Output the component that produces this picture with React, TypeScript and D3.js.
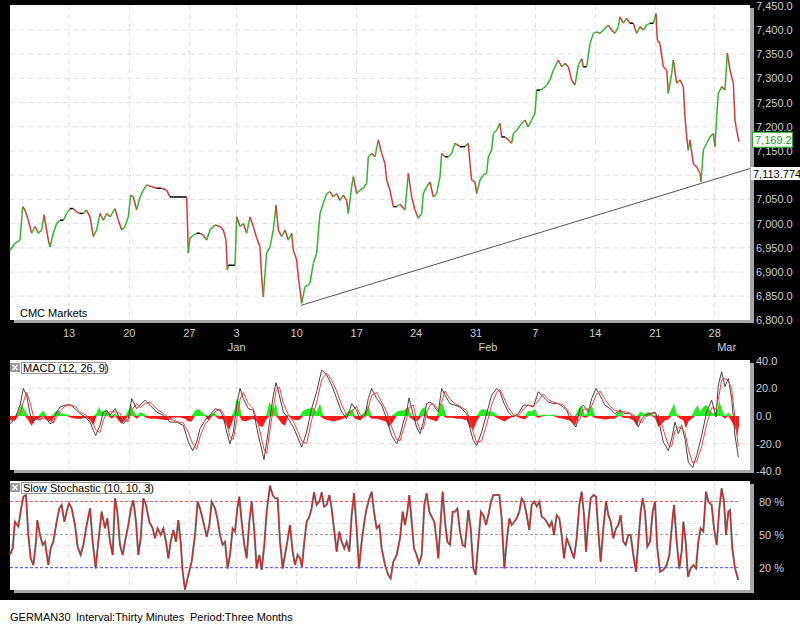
import React from 'react'
import * as d3 from 'd3'

const W = 800
const H = 625
const left = 10
const right = 750
const pricePane = { top: 5, bottom: 320 }
const macdPane = { top: 360, bottom: 470 }
const stochPane = { top: 481, bottom: 590 }
const FONT = '"Liberation Sans", Arial, sans-serif'

// x unit: 30-minute bars counted from the open of Mon 13 Dec
const firstBar = -177
const lastBar = 2043
const dayTicks = [0, 181, 361, 503, 683, 863, 1041, 1221, 1399, 1579, 1759, 1937]
const dayLabels = ['13', '20', '27', '3', '10', '17', '24', '31', '7', '14', '21', '28']
const monthTicks = [503, 1257, 1973]
const monthLabels = ['Jan', 'Feb', 'Mar']

const priceTicks = [6800, 6850, 6900, 6950, 7000, 7050, 7100, 7150, 7200, 7250, 7300, 7350, 7400, 7450]
const macdTicks = [40, 20, 0, -20, -40]
const stochLabels = [80, 50, 20]
const stochGrid = [40, 60]

const lastClose = 7169.2
const trendStart: [number, number] = [696, 6831]
const trendEnd: [number, number] = [2043, 7113.774]

// [bar, close]
const closes: [number, number][] = [
  [-177, 6945], [-162, 6959], [-147, 6966], [-139, 7035], [-132, 7028], [-122, 7007], [-112, 6980], [-102, 6994],
  [-92, 6980], [-82, 6987], [-75, 7018], [-62, 6966], [-57, 6952], [-47, 6980], [-37, 7000], [-27, 7007],
  [-17, 7007], [-7, 7021], [3, 7031], [13, 7031], [23, 7024], [33, 7021], [43, 7021], [53, 7028],
  [63, 7014], [73, 6973], [83, 6987], [93, 7021], [103, 7007], [113, 7021], [123, 7014], [138, 7031],
  [148, 7007], [158, 6987], [168, 6994], [178, 7014], [185, 7059], [193, 7055], [203, 7028], [213, 7055],
  [223, 7069], [233, 7080], [248, 7076], [263, 7073], [278, 7073], [293, 7069], [303, 7055], [313, 7055],
  [353, 7055], [358, 6939], [363, 6970], [373, 6976], [383, 6980], [393, 6980], [403, 6976], [413, 6966],
  [423, 6987], [438, 6997], [453, 6994], [463, 6987], [471, 6966], [475, 6904], [478, 6914], [498, 6914],
  [503, 7014], [513, 6994], [523, 7000], [533, 6980], [543, 7014], [553, 6994], [563, 6970], [573, 6952],
  [578, 6890], [583, 6849], [588, 6897], [593, 6939], [603, 6952], [613, 6987], [621, 7038], [628, 6987],
  [638, 6973], [648, 6987], [658, 6966], [668, 6980], [673, 6945], [683, 6925], [688, 6890], [693, 6863],
  [698, 6835], [708, 6870], [718, 6873], [723, 6877], [733, 6918], [743, 6939], [753, 7021], [763, 7042],
  [773, 7062], [783, 7066], [793, 7055], [803, 7062], [813, 7048], [823, 7059], [833, 7048], [838, 7021],
  [848, 7076], [853, 7097], [863, 7062], [873, 7069], [883, 7073], [893, 7083], [898, 7138], [908, 7145],
  [918, 7138], [928, 7173], [938, 7145], [948, 7124], [953, 7090], [963, 7069], [973, 7035], [983, 7035],
  [993, 7040], [1008, 7028], [1018, 7104], [1028, 7055], [1038, 7028], [1048, 7011], [1058, 7021], [1063, 7062],
  [1073, 7076], [1083, 7086], [1093, 7055], [1103, 7062], [1113, 7097], [1118, 7145], [1128, 7138], [1138, 7138],
  [1148, 7145], [1158, 7166], [1173, 7159], [1188, 7159], [1198, 7166], [1203, 7124], [1208, 7090], [1218, 7086],
  [1223, 7062], [1233, 7090], [1243, 7100], [1253, 7104], [1258, 7138], [1268, 7152], [1273, 7186], [1283, 7193],
  [1293, 7207], [1298, 7179], [1308, 7179], [1318, 7173], [1328, 7166], [1333, 7186], [1343, 7193], [1358, 7207],
  [1368, 7214], [1378, 7200], [1388, 7214], [1398, 7228], [1403, 7276], [1413, 7276], [1423, 7279], [1433, 7286],
  [1443, 7297], [1453, 7317], [1468, 7338], [1478, 7324], [1488, 7331], [1498, 7324], [1508, 7297], [1518, 7286],
  [1528, 7328], [1538, 7341], [1543, 7324], [1553, 7324], [1563, 7372], [1573, 7393], [1583, 7396], [1593, 7393],
  [1603, 7400], [1618, 7410], [1628, 7400], [1638, 7393], [1648, 7407], [1653, 7427], [1663, 7414], [1673, 7424],
  [1683, 7414], [1693, 7414], [1703, 7393], [1713, 7407], [1723, 7400], [1733, 7410], [1743, 7414], [1753, 7414],
  [1761, 7434], [1765, 7379], [1773, 7372], [1783, 7324], [1793, 7317], [1798, 7269], [1808, 7310], [1813, 7338],
  [1823, 7290], [1833, 7297], [1843, 7283], [1848, 7221], [1853, 7179], [1858, 7152], [1863, 7173], [1873, 7124],
  [1883, 7117], [1893, 7104], [1896, 7086], [1903, 7152], [1913, 7166], [1923, 7179], [1933, 7186], [1938, 7159],
  [1943, 7221], [1948, 7269], [1958, 7283], [1968, 7276], [1975, 7352], [1983, 7317], [1993, 7290], [1998, 7214],
  [2003, 7193], [2010, 7169.2],
]

// [bar, macd, signal]
const macd: [number, number, number][] = [
  [-177, -5.6, -3], [-162, -1.9, -3], [-147, 7.8, 2], [-137, 19.9, 10], [-127, 15, 17], [-117, 1.7, 10], [-107, -4.4, 0],
  [-97, -0.7, -3], [-87, -3.1, -2], [-77, -0.7, -2], [-67, -1.9, -1], [-57, -5.6, -3], [-47, -4.4, -5], [-37, 2.9, -1],
  [-27, 6.5, 4], [-12, 7.8, 7], [3, 8.2, 8], [18, 5.3, 7], [33, 1.7, 3], [48, -0.7, 1], [63, -4.4, -2],
  [73, -10.4, -6], [80, -14.1, -10], [93, -6.8, -12], [103, 2.9, -3], [113, 4.1, 2], [123, 0.5, 3], [138, 5.3, 3],
  [153, -1.9, 2], [163, -5.6, -3], [178, -1.9, -4], [188, 12.6, 4], [203, 5.3, 9], [213, 7.8, 6], [228, 11.4, 9],
  [243, 7.8, 10], [263, 2.9, 5], [283, 0.5, 2], [303, -4.4, -2], [323, -4.4, -4], [343, -6.8, -5], [358, -18.9, -12],
  [371, -25, -20], [383, -18.9, -24], [393, -9.2, -15], [408, -3.1, -6], [423, 0.5, -2], [438, 5.3, 3], [453, 4.1, 5],
  [463, -0.7, 2], [473, -11.6, -5], [483, -20.1, -15], [493, -11.6, -17], [503, 7.8, -3], [513, 19.9, 12], [523, 12.6, 17],
  [538, 5.3, 9], [553, 4.1, 5], [568, -14.1, -6], [578, -23.8, -17], [585, -31.5, -24], [593, -18.9, -27], [603, -1.9, -10],
  [613, 15, 6], [621, 24.2, 18], [631, 15, 21], [643, 2.9, 9], [658, -1.9, 1], [673, -8, -4], [688, -16.5, -12],
  [698, -22.5, -18], [713, -11.6, -20], [728, 5.3, -3], [743, 17.5, 10], [758, 33.2, 26], [773, 29.6, 31], [788, 22.3, 26],
  [803, 12.6, 18], [818, 2.9, 8], [833, -1.9, 1], [848, 8.9, 3], [863, 4.1, 7], [873, -3.1, 1], [888, 0.5, -1],
  [898, 12.6, 6], [908, 19.9, 15], [923, 12.6, 17], [938, 7.8, 10], [953, -1.9, 3], [968, -14.1, -8], [983, -20.1, -17],
  [993, -14.1, -18], [1003, -4.4, -10], [1013, 2.9, -2], [1020, 13.1, 6], [1033, 0.5, 8], [1043, -8, -3], [1053, -12.8, -10],
  [1063, -4.4, -9], [1073, 8.9, 2], [1083, 10.2, 8], [1093, 7.8, 9], [1108, 2.9, 5], [1118, 19.9, 10], [1128, 15, 18],
  [1143, 8.9, 12], [1158, 7.8, 9], [1173, 6.5, 7], [1193, 1.7, 4], [1203, -9.2, -3], [1213, -17.7, -12], [1223, -21.3, -19],
  [1238, -11.6, -18], [1253, 1.7, -6], [1268, 15, 8], [1283, 19.9, 17], [1293, 17.5, 19], [1303, 10.2, 14], [1318, 2.9, 6],
  [1333, -0.7, 1], [1348, 1.7, 0], [1363, 7.8, 5], [1378, 7.8, 8], [1393, 6.5, 7], [1408, 17.5, 11], [1423, 13.8, 16],
  [1438, 10.2, 12], [1453, 8.9, 10], [1468, 8.9, 9], [1483, 6.5, 8], [1493, 4.1, 5], [1508, -4.4, 0], [1521, -8, -6],
  [1533, 5.3, -2], [1543, 7.8, 5], [1558, 2.9, 5], [1568, 12.6, 7], [1581, 19.9, 15], [1593, 15, 18], [1608, 7.8, 12],
  [1623, 5.3, 7], [1638, 1.7, 4], [1653, 4.1, 3], [1668, 1.7, 3], [1683, 1.7, 2], [1698, -1.9, 0], [1708, -8, -4],
  [1718, -1.9, -5], [1728, 0.5, -1], [1743, 1.7, 1], [1758, 2.9, 2], [1771, -5.6, 0], [1783, -18.9, -10], [1798, -25, -21],
  [1808, -16.5, -22], [1818, -4.4, -11], [1828, -12.8, -8], [1838, -6.8, -9], [1848, -16.5, -12], [1858, -33.5, -24], [1871, -37.1, -34],
  [1883, -28.6, -33], [1898, -14.1, -22], [1913, 2.9, -6], [1928, 11.4, 6], [1941, -0.7, 5], [1948, 22.3, 12], [1958, 32, 26],
  [1968, 21.1, 27], [1978, 27.2, 25], [1988, 12.6, 20], [1998, -14.1, -2], [2008, -29.8, -22],
]

// [bar, histogram]
const macdHist: [number, number][] = [
  [-177, -3], [-162, -3], [-152, 3], [-142, 9], [-132, 4], [-122, -3], [-112, -7], [-102, -3], [-92, -2], [-77, 4],
  [-67, -3], [-52, -4], [-42, 3], [-32, 4], [-22, 2], [-7, 1], [8, -1.5], [23, -2], [38, -2], [53, -1],
  [63, -3], [73, -7], [83, 2], [90, 6.5], [98, 3], [108, 4], [118, 3], [128, -2], [138, 2], [148, -3],
  [158, -5.6], [168, -3], [178, 4], [186, 8], [193, 4], [203, -2], [213, 2.5], [223, 2], [233, -1.5], [248, -2],
  [263, -2], [278, -2.5], [293, -3], [303, -2.5], [313, -1], [333, -1], [348, -2], [358, -4], [368, -4], [378, 4],
  [388, 5], [398, 3], [408, 1], [418, -3], [428, 2.5], [438, 2], [448, -2], [463, -2.5], [473, -7], [481, -10],
  [488, -5.6], [496, 4], [503, 12.6], [511, 10], [518, -3], [528, -4], [538, -3], [553, -2], [563, -4], [571, -7],
  [581, -8], [591, -3], [601, 10], [608, 7.5], [615, 5], [621, 10], [628, -2], [638, -5.6], [648, -7], [658, 1],
  [668, -2], [681, -3], [693, -2.5], [703, 4], [713, 5], [723, 5.5], [733, 6], [743, 3], [753, 9], [763, -2],
  [778, -3], [793, -4], [808, -3], [823, -2], [838, 3.5], [851, 5], [858, -2], [873, -3], [885, 2.5], [898, 8],
  [908, -2], [923, -2], [938, -3], [951, -4], [958, -8], [968, -5.6], [983, 3], [993, 4], [1003, 4], [1018, 6.5],
  [1028, -2], [1038, -4], [1048, -3], [1058, 5], [1068, 6.5], [1078, -2], [1093, -3], [1103, -4], [1113, 8], [1121, 9],
  [1133, -1.5], [1148, -1], [1163, -2], [1178, -2], [1193, -3], [1203, -8], [1213, -10], [1223, -4], [1233, 4], [1243, 5],
  [1253, 4], [1263, 3], [1273, 3], [1288, -2], [1298, -3], [1308, -4], [1318, -2], [1328, -1], [1338, 1], [1353, -1.5],
  [1368, -2.5], [1378, 4], [1388, 3], [1398, 5], [1408, -1.5], [1423, 1], [1438, 0.5], [1453, 1], [1468, -1.5], [1483, -2],
  [1498, -3], [1508, -4], [1518, -7], [1528, 5], [1538, 8], [1548, -1.5], [1561, 5], [1568, 8], [1578, -1.5], [1593, -2],
  [1608, -2.5], [1623, -2], [1638, -2], [1648, 3], [1655, 5], [1663, -1.5], [1678, -1.5], [1693, -3], [1703, -7], [1715, 3],
  [1728, 1.7], [1738, 3], [1748, 1.7], [1758, -1.5], [1768, -8], [1778, -5.6], [1788, -3], [1798, -2.5], [1808, 5], [1815, 9],
  [1823, 1.7], [1833, -2], [1843, -3], [1851, -9], [1858, -4], [1868, -2], [1878, 5], [1886, 8], [1893, 3], [1903, 6.5],
  [1913, 8], [1923, 4], [1933, 1.7], [1943, 3], [1951, 11.4], [1958, 5], [1968, -2], [1978, 2.5], [1988, -4], [1998, -8],
  [2005, -14], [2010, -7],
]

// [bar, slow %K]
const stoch: [number, number][] = [
  [-177, 31.5], [-169, 37.5], [-162, 61.7], [-152, 57.2], [-145, 70.8], [-137, 84.4], [-129, 85.9], [-122, 49.6], [-115, 28.5], [-107, 22.4],
  [-99, 43.6], [-95, 63.2], [-87, 49.6], [-79, 40.6], [-72, 43.6], [-62, 22.4], [-55, 37.5], [-47, 43.6], [-37, 61.7], [-29, 73.8],
  [-22, 76.9], [-14, 61.7], [-7, 70.8], [0, 78.4], [8, 73.8], [18, 58.7], [26, 39], [35, 31.5], [43, 40.6], [53, 58.7],
  [63, 73.8], [71, 43.6], [80, 19.4], [88, 43.6], [98, 70.8], [108, 55.7], [115, 64.7], [123, 43.6], [131, 31.5], [138, 82.9],
  [145, 70.8], [153, 40.6], [161, 31.5], [168, 43.6], [178, 58.7], [186, 73.8], [193, 81.4], [201, 61.7], [208, 31.5], [215, 46.6],
  [223, 82.9], [231, 76.9], [241, 61.7], [251, 55.7], [258, 46.6], [266, 55.7], [275, 49.6], [283, 55.7], [291, 43.6], [298, 28.5],
  [305, 43.6], [313, 54.2], [321, 43.6], [328, 63.2], [335, 43.6], [341, 16.4], [348, 0], [358, 13.3], [368, 25.4], [378, 49.6],
  [386, 79.9], [393, 73.8], [403, 61.7], [413, 48.1], [421, 58.7], [428, 79.9], [438, 73.8], [445, 64.7], [453, 49.6], [461, 40.6],
  [468, 43.6], [476, 19.4], [483, 31.5], [491, 55.7], [498, 52.7], [505, 73.8], [511, 84.4], [518, 61.7], [526, 40.6], [533, 28.5],
  [541, 61.7], [548, 79.9], [556, 52.7], [563, 19.4], [571, 31.5], [578, 17.9], [586, 40.6], [593, 70.8], [603, 94.4], [611, 85.9],
  [618, 82.9], [626, 82.9], [633, 43.6], [641, 19.4], [648, 31.5], [655, 43.6], [663, 58.7], [671, 34.5], [678, 22.4], [686, 31.5],
  [693, 28.5], [699, 20.9], [706, 43.6], [713, 61.7], [721, 66.2], [728, 73.8], [735, 88.3], [743, 76.9], [751, 79.9], [758, 88.3],
  [765, 75.4], [773, 76.9], [781, 85.9], [788, 73.8], [796, 52.7], [803, 34.5], [811, 52.7], [818, 43.6], [826, 37.5], [833, 43.6],
  [841, 34.5], [848, 67.7], [855, 87.5], [863, 55.7], [870, 19.4], [878, 43.6], [886, 61.7], [893, 73.8], [901, 82.9], [908, 88.9],
  [915, 70.8], [923, 55.7], [931, 58.7], [938, 37.5], [948, 22.4], [958, 13.3], [965, 10.3], [973, 25.4], [983, 31.5], [993, 46.6],
  [1001, 70.8], [1008, 58.7], [1015, 70.8], [1021, 85.9], [1028, 61.7], [1035, 37.5], [1043, 31.5], [1050, 23.9], [1058, 31.5], [1066, 76.9],
  [1073, 87.5], [1081, 70.8], [1088, 66.2], [1096, 61.7], [1103, 43.6], [1108, 28.5], [1113, 52.7], [1121, 88.9], [1128, 61.7], [1135, 43.6],
  [1143, 40.6], [1151, 70.8], [1158, 70.8], [1165, 73.8], [1173, 52.7], [1181, 40.6], [1188, 39], [1198, 72.3], [1205, 55.7], [1213, 19.4],
  [1220, 13.3], [1228, 43.6], [1236, 70.8], [1243, 67.7], [1251, 58.7], [1258, 67.7], [1266, 79.9], [1273, 85.9], [1283, 85.9], [1291, 85.9],
  [1298, 64.7], [1306, 19.4], [1313, 43.6], [1321, 64.7], [1328, 58.7], [1336, 61.7], [1343, 64.7], [1351, 70.8], [1358, 82.9], [1365, 79.9],
  [1373, 67.7], [1381, 54.2], [1388, 76.9], [1396, 79.9], [1403, 75.4], [1411, 79.9], [1418, 66.2], [1426, 64.7], [1433, 61.7], [1441, 57.2],
  [1448, 61.7], [1455, 49.6], [1463, 67.7], [1471, 64.7], [1478, 49.6], [1485, 28.5], [1493, 46.6], [1501, 40.6], [1508, 34.5], [1515, 28.5],
  [1523, 46.6], [1531, 76.9], [1538, 88.9], [1545, 67.7], [1551, 34.5], [1558, 61.7], [1565, 82.9], [1573, 85.9], [1581, 84.4], [1588, 52.7],
  [1595, 25.4], [1603, 55.7], [1611, 79.9], [1618, 67.7], [1625, 61.7], [1633, 46.6], [1641, 55.7], [1648, 58.7], [1655, 67.7], [1663, 43.6],
  [1670, 40.6], [1678, 49.6], [1685, 49.6], [1693, 31.5], [1701, 16.4], [1708, 43.6], [1715, 70.8], [1721, 82.9], [1728, 70.8], [1735, 39],
  [1743, 43.6], [1751, 70.8], [1758, 79.9], [1765, 37.5], [1773, 16.4], [1783, 17.9], [1793, 22.4], [1801, 31.5], [1808, 55.7], [1815, 76.9],
  [1823, 43.6], [1831, 19.4], [1838, 34.5], [1843, 61.7], [1850, 43.6], [1857, 11.8], [1865, 19.4], [1873, 22.4], [1881, 19.4], [1888, 43.6],
  [1895, 55.7], [1903, 52.7], [1911, 88.9], [1918, 79.9], [1928, 76.9], [1935, 55.7], [1943, 40.6], [1951, 73.8], [1958, 92], [1965, 79.9],
  [1971, 49.6], [1978, 70.8], [1983, 72.3], [1990, 37.5], [1998, 19.4], [2008, 8.8],
]

const x = d3.scaleLinear().domain([firstBar, lastBar]).range([left, right])
const yPrice = d3.scaleLinear().domain([6800, 7450]).range([320.4, 5.8])
const yMacd = d3.scaleLinear().domain([-40, 40]).range([471.4, 360.6])
const yStoch = d3.scaleLinear().domain([0, 100]).range([589.7, 479.5])

const fmtPrice = d3.format(',.1f')
const fmtMacd = (v: number) => d3.format('.1f')(v).replace('\u2212', '-')

const GREEN = '#2db82d'
const RED = '#d43a3a'
const AXIS_TEXT = '#cfcfcf'
const GRID = '#e2e2e2'

function Pane({ top, bottom }: { top: number; bottom: number }) {
  return (
    <g>
      <rect x={left + 4} y={top + 3} width={right - left} height={bottom - top} fill="#a6a6a6" />
      <rect x={left} y={top} width={right - left} height={bottom - top} fill="#fff" />
    </g>
  )
}

function VGrid({ top, bottom }: { top: number; bottom: number }) {
  return (
    <g>
      {dayTicks.map((b) => (
        <line key={b} x1={x(b)} x2={x(b)} y1={top} y2={bottom} stroke={GRID} strokeDasharray="5,4" />
      ))}
    </g>
  )
}

function TitleBox({ y, label, width }: { y: number; label: string; width: number }) {
  return (
    <g fontFamily={FONT} fontSize={11}>
      <rect x={10} y={y + 1} width={10} height={9} fill="#9a9a9a" />
      <path d={`M12.5,${y + 3} l5,5 M17.5,${y + 3} l-5,5`} stroke="#fff" strokeWidth={1.4} />
      <rect x={21.5} y={y + 0.5} width={width} height={11} fill="#fff" stroke="#9a9a9a" />
      <text x={23} y={y + 10} fill="#000">{label}</text>
    </g>
  )
}

export default function App() {
  const priceSegs = closes.slice(1).map((c, i) => {
    const p = closes[i]
    const color = c[1] > p[1] ? GREEN : c[1] < p[1] ? RED : '#000'
    return { x1: x(p[0]), y1: yPrice(p[1]), x2: x(c[0]), y2: yPrice(c[1]), color }
  })

  const macdLine = d3.line<[number, number, number]>().x((d) => x(d[0])).y((d) => yMacd(d[1]))
  const signalLine = d3.line<[number, number, number]>().x((d) => x(d[0])).y((d) => yMacd(d[2]))
  const histUp = d3.area<[number, number]>().x((d) => x(d[0])).y0(yMacd(0)).y1((d) => yMacd(Math.max(0, d[1])))
  const histDown = d3.area<[number, number]>().x((d) => x(d[0])).y0(yMacd(0)).y1((d) => yMacd(Math.min(0, d[1])))
  const stochLine = d3.line<[number, number]>().x((d) => x(d[0])).y((d) => yStoch(d[1]))

  const lastDataBar = closes[closes.length - 1][0]
  const yLast = yPrice(lastClose)
  const yTrendEnd = yPrice(trendEnd[1])
  // the trend-line value box hides the price label it sits on
  const visiblePriceTicks = priceTicks.filter((t) => Math.abs(yPrice(t) - (yTrendEnd + 5)) > 8)

  return (
    <svg width={W} height={H} style={{ position: 'absolute', left: 0, top: 0, display: 'block' }} fontFamily={FONT}>
      <rect width={W} height={H} fill="#000" />

      {/* price pane */}
      <Pane {...pricePane} />
      {priceTicks.filter((t) => t > 6800 && t < 7450).map((t) => (
        <line key={t} x1={left} x2={right} y1={yPrice(t)} y2={yPrice(t)} stroke={GRID} strokeDasharray="5,4" />
      ))}
      <VGrid {...pricePane} />
      <line x1={x(trendStart[0])} y1={yPrice(trendStart[1])} x2={x(trendEnd[0])} y2={yTrendEnd} stroke="#555" strokeWidth={1} />
      <g strokeWidth={1.5}>
        {priceSegs.map((s, i) => (
          <line key={i} x1={s.x1} y1={s.y1} x2={s.x2} y2={s.y2} stroke={s.color} />
        ))}
      </g>
      <text x={20} y={317} fontSize={11} fill="#000">CMC Markets</text>
      <g fontSize={11} fill={AXIS_TEXT}>
        {visiblePriceTicks.map((t) => (
          <text key={t} x={756} y={yPrice(t) + 4}>{fmtPrice(t)}</text>
        ))}
        {dayTicks.map((b, i) => (
          <text key={b} x={x(b)} y={337} textAnchor="middle">{dayLabels[i]}</text>
        ))}
        {monthTicks.map((b, i) => (
          <text key={b} x={x(b)} y={351} textAnchor="middle">{monthLabels[i]}</text>
        ))}
      </g>
      <rect x={752.5} y={yLast - 9.5} width={40} height={15} fill="#fff" stroke="#22aa22" />
      <text x={755} y={yLast + 2} fontSize={11} fill="#1a9a1a">{fmtPrice(lastClose)}</text>
      <rect x={751} y={yTrendEnd - 1.5} width={49} height={13} fill="#fff" />
      <text x={753} y={yTrendEnd + 9} fontSize={11} fill="#000">{d3.format(',.3f')(trendEnd[1])}</text>

      {/* MACD pane */}
      <Pane {...macdPane} />
      {[20, -20].map((t) => (
        <line key={t} x1={left} x2={right} y1={yMacd(t)} y2={yMacd(t)} stroke={GRID} strokeDasharray="5,4" />
      ))}
      <VGrid {...macdPane} />
      <path d={histUp(macdHist) || ''} fill="#22ee22" />
      <path d={histDown(macdHist) || ''} fill="#ff1a1a" />
      <path d={macdLine(macd) || ''} fill="none" stroke="#444" strokeWidth={1} />
      <path d={signalLine(macd) || ''} fill="none" stroke="#ff3a3a" strokeWidth={1} />
      <TitleBox y={362} label="MACD (12, 26, 9)" width={84} />
      <g fontSize={11} fill={AXIS_TEXT}>
        {macdTicks.map((t) => (
          <text key={t} x={756} y={yMacd(t) + 4}>{fmtMacd(t)}</text>
        ))}
      </g>

      {/* stochastic pane */}
      <Pane {...stochPane} />
      {stochGrid.map((t) => (
        <line key={t} x1={left} x2={right} y1={yStoch(t)} y2={yStoch(t)} stroke={GRID} strokeDasharray="5,4" />
      ))}
      <VGrid {...stochPane} />
      {[[80, '#ff5a5a'], [50, '#9a9a9a'], [20, '#4848ff']].map(([t, c]) => (
        <line key={t as number} x1={left} x2={x(lastDataBar)} y1={yStoch(t as number)} y2={yStoch(t as number)}
          stroke={c as string} strokeDasharray="3,2" />
      ))}
      <path d={stochLine(stoch) || ''} fill="none" stroke="#777" strokeWidth={2} />
      <path d={stochLine(stoch) || ''} fill="none" stroke="#d82020" strokeWidth={1} />
      <TitleBox y={482} label="Slow Stochastic (10, 10, 3)" width={128} />
      <g fontSize={11} fill={AXIS_TEXT}>
        {stochLabels.map((t) => (
          <text key={t} x={759} y={yStoch(t) + 4}>{t} %</text>
        ))}
      </g>

      {/* footer */}
      <rect x={0} y={600} width={W} height={H - 600} fill="#fff" />
      <g fontSize={11} fill="#000">
        <text x={10} y={621}>GERMAN30</text>
        <text x={76} y={621}>Interval:Thirty Minutes</text>
        <text x={190} y={621}>Period:Three Months</text>
      </g>
    </svg>
  )
}
